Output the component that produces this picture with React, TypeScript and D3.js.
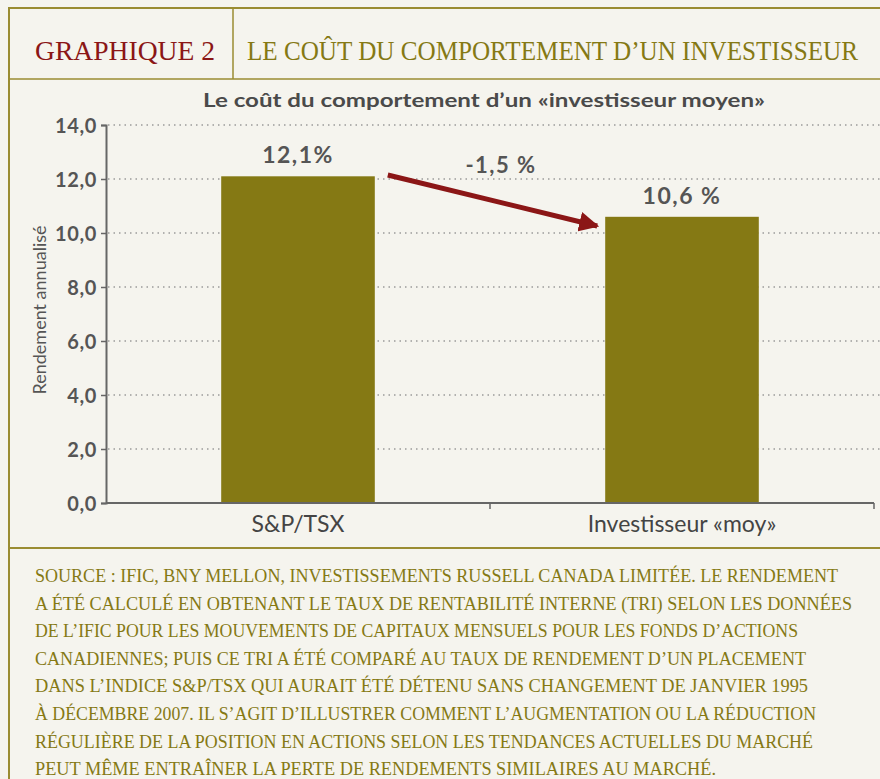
import * as d3 from "d3";
import { useEffect, useRef } from "react";

// ---- data ----
const categories = ["S&P/TSX", "Investisseur «moy»"];
const values = [12.1, 10.6];
const valueLabels = ["12,1%", "10,6 %"];
const diffLabel = "-1,5 %";
const yTicks = [0, 2, 4, 6, 8, 10, 12, 14];

const headerNumber = "GRAPHIQUE 2";
const headerTitle = "LE COÛT DU COMPORTEMENT D’UN INVESTISSEUR";
const chartTitle = "Le coût du comportement d’un «investisseur moyen»";
const yTitle = "Rendement annualisé";

const noteLines = [
  "SOURCE : IFIC, BNY MELLON, INVESTISSEMENTS RUSSELL CANADA LIMITÉE. LE RENDEMENT",
  "A ÉTÉ CALCULÉ EN OBTENANT LE TAUX DE RENTABILITÉ INTERNE (TRI) SELON LES DONNÉES",
  "DE L’IFIC POUR LES MOUVEMENTS DE CAPITAUX MENSUELS POUR LES FONDS D’ACTIONS",
  "CANADIENNES; PUIS CE TRI A ÉTÉ COMPARÉ AU TAUX DE RENDEMENT D’UN PLACEMENT",
  "DANS L’INDICE S&P/TSX QUI AURAIT ÉTÉ DÉTENU SANS CHANGEMENT DE JANVIER 1995",
  "À DÉCEMBRE 2007. IL S’AGIT D’ILLUSTRER COMMENT L’AUGMENTATION OU LA RÉDUCTION",
  "RÉGULIÈRE DE LA POSITION EN ACTIONS SELON LES TENDANCES ACTUELLES DU MARCHÉ",
  "PEUT MÊME ENTRAÎNER LA PERTE DE RENDEMENTS SIMILAIRES AU MARCHÉ.",
];
const noteWidths = [803, 817, 763, 771, 773, 781, 778, 681];

const BG = "#f5f4ee";
const FRAME = "#9a8c32";
const OLIVE = "#857914";
const DARKRED = "#8b1616";
const GREY = "#555555";

export default function App() {
  const refY = useRef<SVGGElement>(null);

  const plot = { left: 106, right: 874, top: 125, bottom: 503 };

  const X = d3.scaleBand().domain(categories).range([plot.left, plot.right]);
  const Y = d3.scaleLinear().domain([0, 14]).range([plot.bottom, plot.top]);
  const barW = X.bandwidth() * 0.4;
  const fmt = (v: number) => d3.format(".1f")(v).replace(".", ",");

  useEffect(() => {
    const g = d3.select(refY.current);
    g.attr("transform", `translate(${plot.left},0)`)
      .call(d3.axisLeft(Y).tickValues(yTicks).tickFormat((d: any) => fmt(d)).tickSize(5).tickPadding(4));
    g.select(".domain").attr("stroke", "#666").attr("stroke-width", 2);
    g.selectAll(".tick line").attr("stroke", "#666").attr("stroke-width", 1.5);
    g.selectAll(".tick text")
      .attr("fill", GREY)
      .style("font-family", "Lato")
      .style("font-weight", "bold")
      .style("font-size", "20px")
      .style("letter-spacing", "0.6px")
      .attr("dy", "0.36em");
  }, []);

  const x0 = X(categories[0])!;
  const x1 = X(categories[1])!;
  const arrowStart = [x0 + X.bandwidth() / 2 + barW / 2 + 13, Y(12.15)];
  const arrowEnd = [x1 + X.bandwidth() / 2 - barW / 2 - 8, Y(10.26)];

  return (
    <div style={{ position: "fixed", left: 0, top: 0, width: 880, height: 779, background: BG }}>
      <svg width={880} height={779} style={{ display: "block" }}>
        <defs>
          <marker id="arr" viewBox="0 0 10 10" refX="9" refY="5" markerWidth="4" markerHeight="4" orient="auto">
            <path d="M0,0 L10,5 L0,10 Z" fill={DARKRED} />
          </marker>
        </defs>

        {/* frame */}
        <line x1={9} x2={880} y1={8} y2={8} stroke={FRAME} strokeWidth={2} />
        <line x1={9} x2={9} y1={7} y2={779} stroke={FRAME} strokeWidth={2} />
        <line x1={233} x2={233} y1={8} y2={79} stroke={FRAME} strokeWidth={1.5} />
        <line x1={9} x2={880} y1={79} y2={79} stroke={FRAME} strokeWidth={1.5} />
        <line x1={9} x2={880} y1={548} y2={548} stroke={FRAME} strokeWidth={2} />

        {/* header: condensed serif, stretched vertically */}
        <text transform="translate(35,60) scale(1,1.3)" fill={DARKRED} fontFamily="Liberation Serif" fontSize={21}
          textLength={180} lengthAdjust="spacingAndGlyphs">{headerNumber}</text>
        <text transform="translate(247,60) scale(1,1.3)" fill={OLIVE} fontFamily="Liberation Serif" fontSize={21}
          textLength={611} lengthAdjust="spacingAndGlyphs">{headerTitle}</text>

        {/* chart title */}
        <text x={484} y={107} textAnchor="middle" fill="#4a4a4a" fontFamily="Lato" fontWeight="bold" fontSize={18}
          textLength={562} lengthAdjust="spacingAndGlyphs">{chartTitle}</text>

        {/* grid */}
        {yTicks.filter(t => t > 0).map(t => (
          <line key={t} x1={plot.left + 2} x2={880} y1={Y(t)} y2={Y(t)} stroke="#9a9a9a"
            strokeWidth={1.3} strokeDasharray="1.5,4" />
        ))}

        {/* bars */}
        {categories.map((c, i) => (
          <rect key={c} x={X(c)! + X.bandwidth() / 2 - barW / 2} y={Y(values[i])} width={barW}
            height={Y(0) - Y(values[i])} fill={OLIVE} />
        ))}

        {/* x axis */}
        <line x1={plot.left} x2={plot.right} y1={Y(0)} y2={Y(0)} stroke="#666" strokeWidth={2} />
        {categories.map(c => (
          <line key={c} x1={X(c)! + X.bandwidth()} x2={X(c)! + X.bandwidth()} y1={Y(0)} y2={Y(0) + 6}
            stroke="#666" strokeWidth={1.5} />
        ))}
        {categories.map(c => (
          <text key={c} x={X(c)! + X.bandwidth() / 2} y={Y(0) + 29} textAnchor="middle" fill="#444"
            fontFamily="Lato" fontSize={23}>{c}</text>
        ))}

        <g ref={refY}></g>

        {/* value labels */}
        {categories.map((c, i) => (
          <text key={c} x={X(c)! + X.bandwidth() / 2} y={Y(values[i]) - 13} textAnchor="middle" fill={GREY}
            fontFamily="Lato" fontWeight="bold" fontSize={23} letterSpacing={1.5}>{valueLabels[i]}</text>
        ))}

        {/* arrow */}
        <line x1={arrowStart[0]} y1={arrowStart[1]} x2={arrowEnd[0]} y2={arrowEnd[1]}
          stroke={DARKRED} strokeWidth={5} markerEnd="url(#arr)" />
        <text x={X(categories[0])! + X.bandwidth() + 11} y={Y(12.1) - 3} textAnchor="middle" fill={GREY}
          fontFamily="Lato" fontWeight="bold" fontSize={22} letterSpacing={1.5}>{diffLabel}</text>

        {/* y title */}
        <text transform={`translate(46,${(plot.top + plot.bottom) / 2 - 4}) rotate(-90)`} textAnchor="middle"
          fill={GREY} fontFamily="Lato" fontSize={18}>{yTitle}</text>

        {/* notes */}
        {noteLines.map((l, i) => (
          <text key={i} x={35} y={582 + i * 27.6} fill={OLIVE} fontFamily="Liberation Serif" fontSize={18}
            textLength={noteWidths[i]} lengthAdjust="spacingAndGlyphs">{l}</text>
        ))}
      </svg>
    </div>
  );
}
